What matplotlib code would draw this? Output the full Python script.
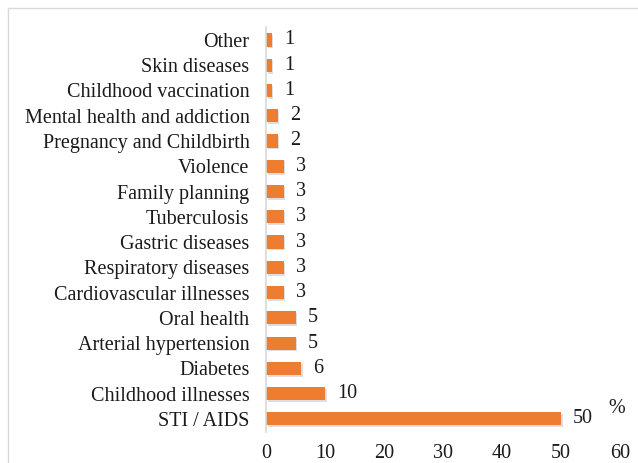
import matplotlib.pyplot as plt
import numpy as np

categories = ["STI / AIDS", "Childhood illnesses", "Diabetes", "Arterial hypertension",
              "Oral health", "Cardiovascular illnesses", "Respiratory diseases",
              "Gastric diseases", "Tuberculosis", "Family planning", "Violence",
              "Pregnancy and Childbirth", "Mental health and addiction",
              "Childhood vaccination", "Skin diseases", "Other"]
values = [50, 10, 6, 5, 5, 3, 3, 3, 3, 3, 3, 2, 2, 1, 1, 1]
xticks = [0, 10, 20, 30, 40, 50, 60]

plt.rcParams["font.family"] = ["Liberation Serif", "DejaVu Serif"]
fs = 14.5
txt = "#1a1a1a"

fig = plt.figure(figsize=(6.38, 4.63), dpi=100)
# light frame round the chart
fig.add_artist(plt.Line2D([0.0125, 0.0125], [0, 0.982], color="#d9d9d9", lw=1))
fig.add_artist(plt.Line2D([0.0125, 1], [0.982, 0.982], color="#d9d9d9", lw=1))

ax = fig.add_axes([0.417, 0.068, 0.555, 0.873])
y = np.arange(len(categories))

# soft shadow under each bar
ax.barh(y - 0.07, values, height=0.52, left=0.25, color="#bfbfbf", alpha=0.5, zorder=1)
ax.barh(y, values, height=0.52, color="#ED7D31", zorder=2)

for yi, v in zip(y, values):
    ax.text(v + 2.0, yi, str(v), va="center", ha="left", fontsize=fs, color=txt)

ax.set_xlim(0, 60)
ax.set_ylim(-0.5, len(categories) - 0.5)
ax.set_yticks(y)
ax.set_yticklabels(categories, fontsize=fs, color=txt)
ax.set_xticks(xticks)
ax.set_xticklabels([str(t) for t in xticks], fontsize=fs, color=txt)
ax.tick_params(axis="both", length=0)
ax.tick_params(axis="y", pad=12)
ax.tick_params(axis="x", pad=9)

for side in ["top", "right", "bottom"]:
    ax.spines[side].set_visible(False)
ax.spines["left"].set_color("#d9d9d9")
ax.spines["left"].set_linewidth(1.2)

ax.text(59.5, 0.4, "%", fontsize=fs, color=txt, ha="center", va="center")

fig.savefig("out.png", dpi=100)
